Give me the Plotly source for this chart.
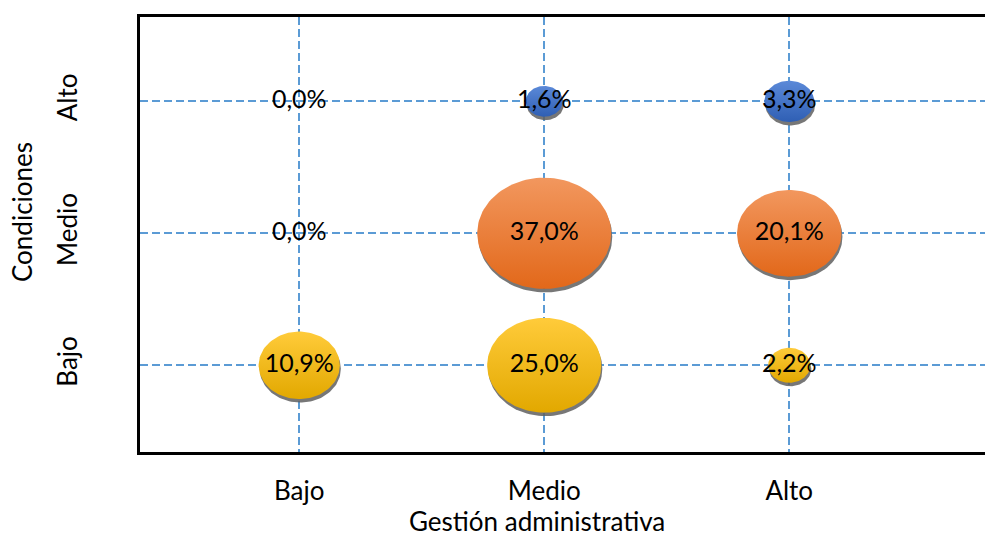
import numpy as np
import plotly.graph_objects as go

# ---- data ----
x_labels = ["Bajo", "Medio", "Alto"]          # Gestión administrativa
y_labels = ["Bajo", "Medio", "Alto"]          # Condiciones
cond_bajo = [10.9, 25.0, 2.2]
cond_medio = [0.0, 37.0, 20.1]
cond_alto = [0.0, 1.6, 3.3]

series = [
    ("Bajo", cond_bajo, ("#E2A800", "#FFCB3A")),
    ("Medio", cond_medio, ("#E2681A", "#F2975E")),
    ("Alto", cond_alto, ("#2F5FB4", "#5B89D8")),
]

# ---- layout constants ----
W, H = 985, 533
ML, MR, MT, MB = 140, 0, 17, 81
XR = [0.35, 3.799]
YR = [0.343, 3.639]
px_x = (W - ML - MR) / (XR[1] - XR[0])
px_y = (H - MT - MB) / (YR[1] - YR[0])
FONT = "Lato"


def bubble_width(v):
    return 30.5 * v ** 0.41


def fmt(v):
    return f"{v:.1f}".replace(".", ",") + "%"


fig = go.Figure()
t = np.linspace(0, 2 * np.pi, 120)
xs = np.arange(1, len(x_labels) + 1)

for yi, (name, vals, (c_dark, c_light)) in enumerate(series, start=1):
    for xv, v in zip(xs, vals):
        if v <= 0:
            continue
        w = bubble_width(v)
        h = 0.83 * w
        rx = w / 2 / px_x
        ry = h / 2 / px_y
        # shadow
        fig.add_trace(go.Scatter(
            x=xv + 1.0 / px_x + rx * np.cos(t), y=yi - 3.5 / px_y + ry * np.sin(t),
            mode="lines", fill="toself", line=dict(width=0),
            fillcolor="rgba(95,95,95,0.85)", hoverinfo="skip", showlegend=False))
        # bubble
        fig.add_trace(go.Scatter(
            x=xv + rx * np.cos(t), y=yi + ry * np.sin(t),
            mode="lines", fill="toself", line=dict(width=0),
            fillgradient=dict(type="vertical",
                              colorscale=[[0, c_dark], [1, c_light]]),
            hoverinfo="skip", showlegend=False))

# labels
for yi, (name, vals, _) in enumerate(series, start=1):
    fig.add_trace(go.Scatter(
        x=xs, y=[yi] * len(vals), mode="text",
        text=[fmt(v) for v in vals], textposition="middle center",
        textfont=dict(family=FONT, size=25, color="black"),
        hoverinfo="skip", showlegend=False))

grid = dict(showgrid=True, gridcolor="#5B9BD5", gridwidth=1.5, griddash="8px,4px",
            zeroline=False, ticks="", showline=True, linecolor="black", linewidth=2.5,
            automargin=False,
            tickfont=dict(family=FONT, size=26, color="black"))

fig.update_xaxes(range=XR, tickvals=list(xs), ticktext=x_labels, mirror=True,
                 ticklabelstandoff=14, **grid)
fig.update_yaxes(range=YR, tickvals=[1, 2, 3], ticktext=y_labels, mirror=False,
                 tickangle=-90, ticklabelstandoff=50, **grid)

fig.update_layout(
    width=W, height=H, margin=dict(l=ML, r=MR, t=MT, b=MB, autoexpand=False),
    paper_bgcolor="white", plot_bgcolor="white", showlegend=False,
    annotations=[
        dict(text="Gestión administrativa", x=(537 - ML) / (W - ML - MR), y=(452 - 521) / (H - MT - MB),
             xref="paper", yref="paper", xanchor="center", yanchor="middle",
             showarrow=False, font=dict(family=FONT, size=26, color="black")),
        dict(text="Condiciones", x=(22 - ML) / (W - ML - MR), y=(452 - 212) / (H - MT - MB),
             xref="paper", yref="paper", xanchor="center", yanchor="middle", textangle=-90,
             showarrow=False, font=dict(family=FONT, size=26, color="black")),
    ],
)

fig.write_html(
    "out.html",
    config={"displayModeBar": False},
    post_script="document.body.style.margin='0px';document.body.style.overflow='hidden';",
)
